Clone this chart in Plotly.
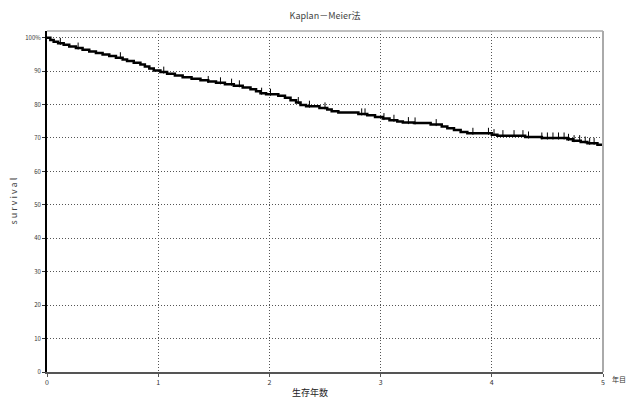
import numpy as np
import plotly.graph_objects as go

# Kaplan-Meier step curve (years, survival %)
event_times = [0, 0.03, 0.06, 0.10, 0.15, 0.20, 0.26, 0.32, 0.38, 0.44, 0.50, 0.56, 0.62, 0.68,
               0.72, 0.78, 0.84, 0.88, 0.92, 0.96, 1.02, 1.08, 1.15, 1.22, 1.30, 1.38, 1.45, 1.52,
               1.60, 1.68, 1.76, 1.83, 1.88, 1.92, 1.97, 2.08, 2.14, 2.19, 2.24, 2.28, 2.33, 2.45,
               2.52, 2.56, 2.62, 2.80, 2.88, 2.95, 3.02, 3.08, 3.15, 3.20, 3.30, 3.45, 3.55, 3.60,
               3.66, 3.72, 3.78, 4.00, 4.05, 4.30, 4.45, 4.68, 4.73, 4.80, 4.86, 4.95, 5.0]
survival = [100, 99.3, 98.8, 98.3, 97.9, 97.4, 96.9, 96.4, 95.9, 95.4, 95.0, 94.5, 94.0, 93.5,
            93.0, 92.5, 92.0, 91.4, 90.8, 90.2, 89.7, 89.2, 88.7, 88.2, 87.7, 87.3, 86.9, 86.5,
            86.1, 85.6, 85.1, 84.6, 84.0, 83.4, 83.1, 82.6, 82.0, 81.3, 80.6, 79.9, 79.5, 79.0,
            78.5, 78.0, 77.6, 77.2, 76.8, 76.3, 75.8, 75.3, 74.9, 74.6, 74.5, 74.0, 73.4, 72.9,
            72.4, 71.8, 71.4, 71.0, 70.7, 70.3, 70.0, 69.6, 69.2, 68.8, 68.4, 68.0, 67.8]
censor_times = [0.12, 0.28, 0.66, 1.05, 1.45, 1.56, 1.66, 1.73, 1.93, 2.01, 2.26, 2.36, 2.50,
                2.83, 2.86, 3.03, 3.12, 3.25, 3.31, 3.50, 3.83, 3.97, 4.02, 4.10, 4.20, 4.28,
                4.33, 4.45, 4.50, 4.55, 4.60, 4.65, 4.69, 4.74, 4.79, 4.84, 4.88, 4.92]

x_ticks = [0, 1, 2, 3, 4, 5]
y_ticks = [0, 10, 20, 30, 40, 50, 60, 70, 80, 90, 100]
y_tick_labels = ["0", "10", "20", "30", "40", "50", "60", "70", "80", "90", "100%"]

et = np.array(event_times)
sv = np.array(survival)
idx = np.searchsorted(et, np.array(censor_times), side="right") - 1
censor_y = sv[idx] + 0.6

fig = go.Figure()
fig.add_trace(go.Scatter(x=event_times, y=survival, mode="lines", line=dict(color="black", width=2.5, shape="hv"),
                         showlegend=False, hoverinfo="skip"))
fig.add_trace(go.Scatter(x=censor_times, y=censor_y, mode="markers",
                         marker=dict(symbol="line-ns", size=5, line=dict(color="black", width=1)),
                         showlegend=False, hoverinfo="skip"))

grid_col = "#555555"
fig.update_layout(
    width=629, height=403,
    margin=dict(l=47, r=26, t=31, b=31),
    paper_bgcolor="white", plot_bgcolor="white",
    font=dict(family="Noto Sans CJK JP, DejaVu Sans, sans-serif", color="#333333", size=7),
    title=dict(text="Kaplan－Meier法", x=325 / 629, xanchor="center", y=1 - 16 / 403, yanchor="middle",
               font=dict(size=9, color="#444444")),
    xaxis=dict(range=[0, 5], tickvals=x_ticks, ticktext=[str(v) for v in x_ticks], automargin=False,
               showgrid=True, gridcolor=grid_col, griddash="1px,2px", gridwidth=1,
               showline=True, linecolor="#555555", linewidth=2, ticks="outside", ticklen=3,
               tickcolor="#555555", zeroline=False, tickfont=dict(size=7, color="#333333")),
    yaxis=dict(range=[0, 102], tickvals=y_ticks, ticktext=y_tick_labels, automargin=False,
               showgrid=True, gridcolor=grid_col, griddash="1px,2px", gridwidth=1,
               showline=True, linecolor="black", linewidth=2, ticks="outside", ticklen=3,
               tickcolor="#333333", zeroline=False, tickfont=dict(size=6, color="#333333")),
    shapes=[
        dict(type="line", xref="paper", yref="paper", x0=0, x1=1, y0=1, y1=1,
             line=dict(color="#aaaaaa", width=1.5)),
        dict(type="line", xref="paper", yref="paper", x0=1, x1=1, y0=0, y1=1,
             line=dict(color="#aaaaaa", width=2)),
    ],
    annotations=[
        dict(text="年目", xref="paper", yref="paper", x=1.0, y=0, xshift=16, yshift=-7,
             showarrow=False, font=dict(size=7, color="#333333"), xanchor="center", yanchor="middle"),
        dict(text="生存年数", xref="paper", yref="paper", x=(310 - 47) / 556, y=0, yshift=-20,
             showarrow=False, font=dict(size=9, color="#222222"), xanchor="center", yanchor="middle"),
        dict(text="s u r v i v a l", xref="paper", yref="paper", x=0, xshift=-34, y=0.5, textangle=-90,
             showarrow=False, font=dict(size=9, color="#444444"), xanchor="center", yanchor="middle"),
    ],
)

fig.write_html("out.html", config={"displayModeBar": False},
               post_script="document.body.style.margin='0px';document.body.style.overflow='hidden';")
